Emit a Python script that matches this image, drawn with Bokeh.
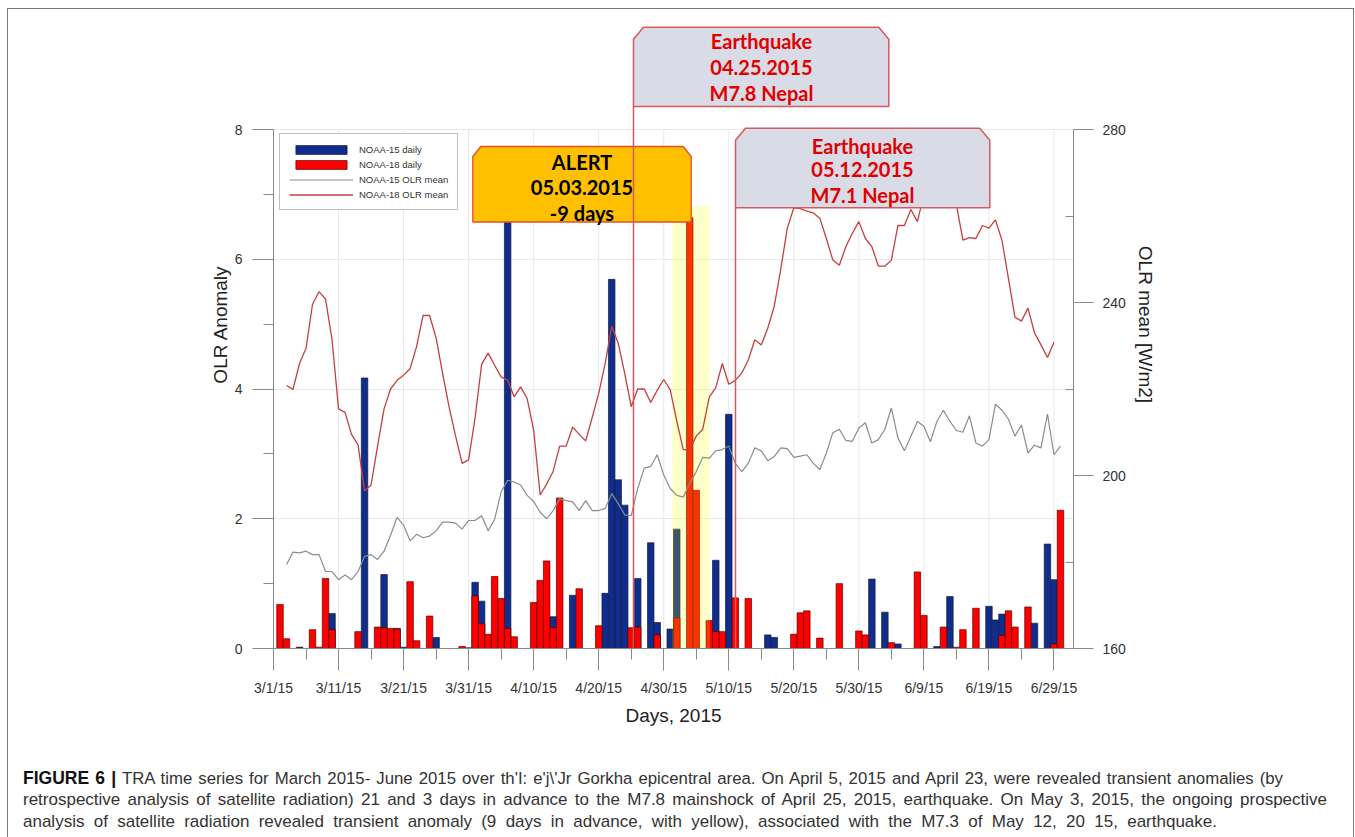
from bokeh.plotting import figure
from bokeh.models import (Range1d, LinearAxis, FixedTicker, Legend, LegendItem,
                          PolyAnnotation, Label, Div)
from bokeh.layouts import column
from bokeh.embed import file_html
from bokeh.resources import INLINE

# ---------------- data (day 0 = 3/1/15) ----------------
tick_days = [0, 10, 20, 30, 40, 50, 60, 70, 80, 90, 100, 110, 120]
tick_labels = ["3/1/15", "3/11/15", "3/21/15", "3/31/15", "4/10/15", "4/20/15",
               "4/30/15", "5/10/15", "5/20/15", "5/30/15", "6/9/15", "6/19/15", "6/29/15"]
minor_days = [5, 15, 25, 35, 45, 55, 65, 75, 85, 95, 105, 115]

noaa15_days = [4, 9, 14, 17, 19, 20, 25, 30, 31, 32,
               36, 43, 46, 51, 52, 53, 54, 56, 58, 59,
               61, 62, 68, 70, 76, 77, 92, 94, 96, 102,
               104, 110, 111, 112, 117, 119, 120]
noaa15_vals = [0.02, 0.54, 4.17, 1.14, 0.31, 0.02, 0.17, 0.01, 1.02, 0.73,
               6.70, 0.49, 0.82, 0.85, 5.69, 2.60, 2.21, 1.08, 1.63, 0.40,
               0.30, 1.84, 1.36, 3.61, 0.21, 0.17, 1.07, 0.56, 0.07, 0.03,
               0.80, 0.65, 0.44, 0.53, 0.39, 1.61, 1.06]

noaa18_days = [1, 2, 4, 6, 7, 8, 9, 13, 16, 17,
               18, 19, 21, 22, 24, 29, 31, 32, 33, 34,
               35, 36, 37, 40, 41, 42, 43, 44, 47, 50,
               55, 56, 59, 62, 64, 65, 67, 68, 69, 71,
               73, 80, 81, 82, 84, 87, 90, 91, 95, 99,
               100, 103, 105, 106, 108, 112, 113, 114, 116, 120,
               121]
noaa18_vals = [0.68, 0.15, 0.01, 0.29, 0.02, 1.08, 0.29, 0.26, 0.33, 0.32,
               0.31, 0.30, 1.03, 0.12, 0.50, 0.03, 0.81, 0.38, 0.22, 1.11,
               0.77, 0.31, 0.18, 0.71, 1.05, 1.35, 0.32, 2.32, 0.92, 0.35,
               0.32, 0.33, 0.21, 0.47, 6.64, 2.44, 0.43, 0.26, 0.26, 0.78,
               0.77, 0.22, 0.55, 0.58, 0.16, 1.00, 0.27, 0.21, 0.09, 1.18,
               0.51, 0.33, 0.02, 0.29, 0.62, 0.20, 0.58, 0.33, 0.64, 0.07,
               2.13]

noaa18_olr_days = list(range(2, 121))
noaa18_olr = [220.8, 219.9, 225.9, 229.4, 239.6, 242.5, 240.8, 231.4, 215.4, 214.6,
              209.5, 207.1, 196.4, 197.8, 206.8, 215.4, 220.0, 222.0, 223.2, 224.7,
              229.8, 237.0, 237.0, 231.8, 223.6, 215.8, 209.1, 202.8, 203.6, 213.4,
              225.7, 228.3, 225.5, 222.8, 222.0, 218.2, 220.5, 217.8, 210.5, 195.5,
              198.0, 201.0, 206.8, 206.8, 211.2, 209.5, 208.0, 213.4, 219.0, 225.9,
              234.5, 230.6, 223.6, 215.9, 220.0, 220.0, 216.9, 219.7, 222.2, 219.8,
              212.6, 206.0, 206.0, 209.1, 210.7, 218.1, 220.3, 225.9, 221.1, 222.0,
              223.7, 226.7, 231.4, 230.2, 234.1, 239.2, 247.8, 257.2, 261.9, 261.7,
              261.1, 260.7, 259.5, 254.8, 249.8, 248.6, 252.9, 256.0, 258.7, 254.8,
              252.9, 248.4, 248.4, 249.8, 257.8, 257.8, 261.5, 258.7, 265.0, 267.0,
              266.0, 268.0, 266.0, 262.5, 254.4, 255.0, 254.8, 257.8, 257.2, 259.1,
              254.4, 245.5, 236.6, 235.7, 238.7, 233.0, 230.2, 227.3, 230.8]

noaa15_olr_days = list(range(2, 122))
noaa15_olr = [179.4, 182.3, 182.1, 182.5, 181.7, 181.7, 177.8, 177.8, 175.9, 177.0,
              175.9, 177.8, 181.3, 181.7, 180.6, 182.5, 186.2, 190.3, 188.5, 184.9,
              186.4, 185.6, 186.0, 187.2, 189.2, 189.2, 189.0, 187.6, 189.6, 189.6,
              190.7, 187.2, 189.9, 196.2, 198.9, 198.5, 197.8, 195.4, 194.0, 191.5,
              190.0, 191.9, 194.6, 194.2, 193.9, 191.9, 194.2, 191.9, 191.9, 192.4,
              195.8, 193.5, 190.9, 190.7, 197.0, 201.7, 202.1, 204.8, 200.1, 197.0,
              195.4, 195.0, 198.2, 200.9, 204.2, 204.0, 205.7, 206.0, 206.8, 202.8,
              200.9, 202.8, 206.4, 205.7, 203.4, 204.4, 206.4, 206.2, 204.2, 204.5,
              204.8, 202.8, 201.4, 205.2, 209.9, 210.7, 208.1, 207.9, 211.0, 212.2,
              207.5, 208.3, 210.7, 215.6, 208.7, 205.7, 209.1, 212.5, 211.4, 207.8,
              212.5, 215.1, 212.5, 210.4, 210.0, 213.8, 207.5, 206.8, 208.3, 216.5,
              215.1, 213.0, 209.1, 211.7, 205.2, 207.0, 206.4, 214.2, 204.8, 206.8]

alert_window = (61.3, 67.1)   # yellow band (days)
alert_band_top = 6.82

# ---------------- layout constants (page px; canvas starts at 0,0) ----------------
W, FIG_H, CAP_H = 1355, 750, 87
ML, MR, MT, MB = 273, 282, 0, 102
FW, FH = W - ML - MR, FIG_H - MT - MB          # 800 x 648
X_END = 123.0
PX_PER_UNIT = 519.0 / 8.0                       # left axis: 8 units over 519 px
Y_END = FH / PX_PER_UNIT                        # frame reaches the canvas top
OLR_END = 160 + Y_END * 15.0                    # right axis: 15 W/m2 per left unit


def dx(px):
    return (px - ML) * X_END / FW


def vy(py):
    return (FH - py) / PX_PER_UNIT


p = figure(width=W, height=FIG_H, x_range=Range1d(0, X_END), y_range=Range1d(0, Y_END),
           output_backend="svg", toolbar_location=None, title=None,
           min_border_left=ML, min_border_right=MR, min_border_top=MT, min_border_bottom=MB)
p.outline_line_color = None
p.background_fill_color = None
p.border_fill_color = None
p.extra_y_ranges = {"olr": Range1d(160, OLR_END)}

AX = "#8a8a8a"
FONT = "Liberation Sans"

# bottom axis
xa = p.xaxis[0]
xa.ticker = FixedTicker(ticks=tick_days, minor_ticks=minor_days)
xa.major_label_overrides = {d: s for d, s in zip(tick_days, tick_labels)}
xa.major_tick_out = 22
xa.major_tick_in = 0
xa.minor_tick_out = 11
xa.minor_tick_in = 0
xa.major_label_standoff = 9
xa.axis_label = "Days, 2015"
xa.axis_label_standoff = 6

# left axis
ya = p.yaxis[0]
ya.ticker = FixedTicker(ticks=[0, 2, 4, 6, 8], minor_ticks=[1, 3, 5, 7])
ya.bounds = (0, 8)
ya.major_tick_out = 21
ya.major_tick_in = 0
ya.minor_tick_out = 10
ya.minor_tick_in = 0
ya.major_label_standoff = 10
ya.axis_label = "OLR Anomaly"
ya.axis_label_standoff = 1

# right axis
ra = LinearAxis(y_range_name="olr")
ra.ticker = FixedTicker(ticks=[160, 200, 240, 280], minor_ticks=[180, 220, 260])
ra.bounds = (160, 280)
ra.major_tick_out = 20
ra.major_tick_in = 0
ra.minor_tick_out = 0
ra.minor_tick_in = 8
ra.major_label_standoff = 9
ra.axis_label = "OLR mean [W/m2]"
ra.axis_label_standoff = 6
p.add_layout(ra, "right")

for ax in (xa, ya, ra):
    ax.axis_line_color = AX
    ax.major_tick_line_color = AX
    ax.minor_tick_line_color = AX
    ax.major_label_text_font = FONT
    ax.major_label_text_font_size = "14px"
    ax.major_label_text_color = "#333333"
    ax.axis_label_text_font = FONT
    ax.axis_label_text_font_size = "19px"
    ax.axis_label_text_font_style = "normal"
    ax.axis_label_text_color = "#222222"

GRID = "#e9e9e9"
p.xgrid.visible = False
p.ygrid.grid_line_color = GRID
# vertical grid lines, limited to the 0..8 band like the original
p.segment(x0=tick_days, y0=[0] * len(tick_days), x1=tick_days, y1=[8] * len(tick_days),
          line_color=GRID, line_width=1, level="underlay")

# bars
r15 = p.vbar(x=noaa15_days, top=noaa15_vals, width=1.0, bottom=0,
             fill_color="#0e2d8c", line_color="#1b1b3a", line_width=0.7)
r18 = p.vbar(x=noaa18_days, top=noaa18_vals, width=1.0, bottom=0,
             fill_color="#ff0000", line_color="#5a0000", line_width=0.7)

# yellow alert window
p.quad(left=[alert_window[0]], right=[alert_window[1]], bottom=[0], top=[alert_band_top],
       fill_color="#ffff00", fill_alpha=0.2, line_color=None)

# OLR mean lines
l15 = p.line(noaa15_olr_days, noaa15_olr, y_range_name="olr", line_color="#8c8c8c", line_width=1.2)
l18 = p.line(noaa18_olr_days, noaa18_olr, y_range_name="olr", line_color="#c44040", line_width=1.3)

legend = Legend(items=[LegendItem(label="NOAA-15 daily", renderers=[r15]),
                       LegendItem(label="NOAA-18 daily", renderers=[r18]),
                       LegendItem(label="NOAA-15 OLR mean", renderers=[l15]),
                       LegendItem(label="NOAA-18 OLR mean", renderers=[l18])],
                location=(6, 438), padding=9, spacing=3,
                glyph_width=64, glyph_height=11, label_height=12, label_standoff=6,
                label_text_font=FONT, label_text_font_size="9.5px", label_text_color="#333333",
                border_line_color="#808080", border_line_width=1,
                background_fill_color="white", background_fill_alpha=1)
p.add_layout(legend)


# ---------------- annotation boxes ----------------
def chamfer_box(l, r, t, b, cx, cy, fill, line, width, base_line=False):
    pts = []
    if base_line:
        pts.append((l, FH))
    pts += [(l, t + cy), (l + cx, t), (r - cx, t), (r, t + cy), (r, b), (l, b)]
    xs = [dx(a) for a, _ in pts]
    ys = [vy(c) for _, c in pts]
    p.add_layout(PolyAnnotation(xs=xs, ys=ys, xs_units="data", ys_units="data",
                                fill_color=fill, fill_alpha=1.0, line_color=line,
                                line_alpha=1.0, line_width=width))


def box_text(cx, ys, lines, color):
    for yy, t in zip(ys, lines):
        p.add_layout(Label(x=dx(cx), y=vy(yy), x_units="data", y_units="data", text=t,
                           text_align="center", text_baseline="middle",
                           text_font="Lato", text_font_style="bold",
                           text_font_size="20px", text_color=color))


EQ_LINE = "#d65a5a"
chamfer_box(472.3, 690.7, 146, 221.5, 8, 10, "#ffc000", "#e0502a", 1.3)
box_text(581.5, [161, 187, 212.5], ["ALERT", "05.03.2015", "-9 days"], "#000000")

chamfer_box(633, 888.3, 26.7, 106, 10, 12, "#d9dbe6", EQ_LINE, 1.5, base_line=True)
box_text(761, [40, 66.5, 92.5], ["Earthquake", "04.25.2015", "M7.8 Nepal"], "#e00000")

chamfer_box(735, 989.3, 127.7, 207.3, 10, 12, "#d9dbe6", EQ_LINE, 1.5, base_line=True)
box_text(862, [145.5, 169, 194], ["Earthquake", "05.12.2015", "M7.1 Nepal"], "#e00000")

# ---------------- caption ----------------
line_style = ("white-space:nowrap; text-align:justify; text-align-last:justify; "
              "height:22px; line-height:22px;")
cap_html = (
    "<div style=\"font-family:'Liberation Sans', Arial, sans-serif; color:#333333; "
    "padding-left:18px; padding-top:12px;\">"
    "<div style=\"width:1260px; font-size:16.8px; " + line_style + "\">"
    "<b style=\"color:#111111; font-size:17.5px;\">FIGURE 6 |</b> TRA time series for March 2015- June 2015 "
    "over th'I: e'j\\'Jr Gorkha epicentral area. On April 5, 2015 and April 23, were revealed "
    "transient anomalies (by</div>"
    "<div style=\"width:1304px; font-size:17px; " + line_style + "\">"
    "retrospective analysis of satellite radiation) 21 and 3 days in advance to the M7.8 mainshock "
    "of April 25, 2015, earthquake. On May 3, 2015, the ongoing prospective</div>"
    "<div style=\"width:1194px; font-size:17px; " + line_style + "\">"
    "analysis of satellite radiation revealed transient anomaly (9 days in advance, with yellow), "
    "associated with the M7.3 of May 12, 20 15, earthquake.</div>"
    "</div>"
)
cap = Div(text=cap_html, width=W, height=CAP_H)

BORDER = "#7a7a7a"
root = column(p, cap, width=W, height=FIG_H + CAP_H, spacing=0)
root.styles = {
    "background-image": ("linear-gradient(%s,%s), linear-gradient(%s,%s), linear-gradient(%s,%s)"
                         % (BORDER, BORDER, BORDER, BORDER, BORDER, BORDER)),
    "background-position": "7px 8px, 7px 8px, 1353px 8px",
    "background-size": "1px 100%, 1347px 1px, 1px 100%",
    "background-repeat": "no-repeat",
}

open("out.html", "w").write(file_html(root, INLINE))
